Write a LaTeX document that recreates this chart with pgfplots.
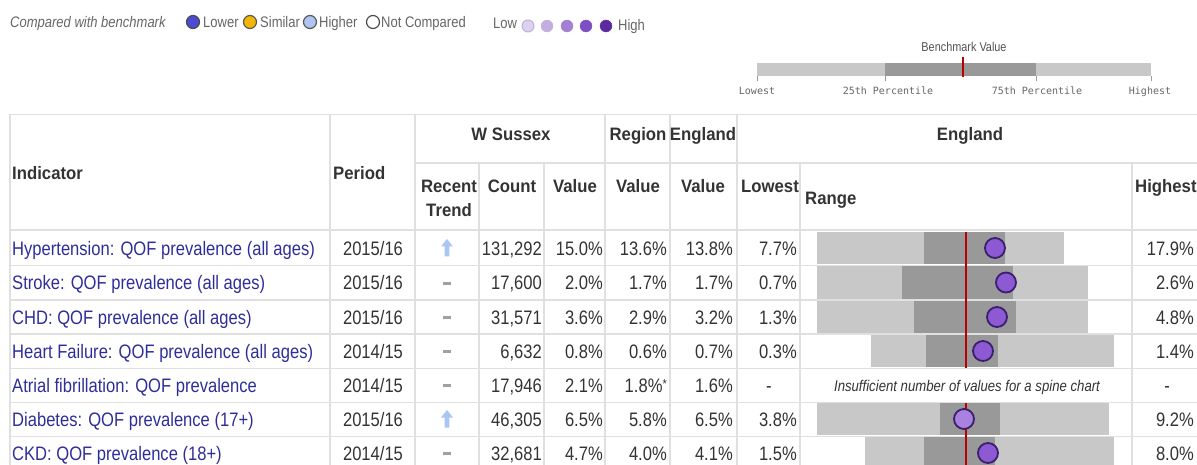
\documentclass[border=0pt]{standalone}
\usepackage{fontspec}
\setmainfont{Liberation Sans}[FakeStretch=0.85]
\newfontfamily\hdrfam{Liberation Sans}[FakeStretch=0.93]
\newfontfamily\monofam{DejaVu Sans Mono}
\usepackage{pgfplots}
\usepackage{pgfplotstable}
\pgfplotsset{compat=1.18}

\definecolor{txt}{HTML}{333333}
\definecolor{ind}{HTML}{2E2E99}
\definecolor{gridc}{HTML}{E0E0E0}
\definecolor{lightbar}{HTML}{C8C8C8}
\definecolor{darkbar}{HTML}{999999}
\definecolor{bench}{HTML}{B80000}
\definecolor{dot}{HTML}{8D5AD3}
\definecolor{dotlight}{HTML}{A982E0}
\definecolor{dotedge}{HTML}{3A1F6E}
\definecolor{legtxt}{HTML}{666666}
\definecolor{arrowblue}{HTML}{A9C6F5}
\definecolor{dashc}{HTML}{A0A0A0}
\definecolor{lowc}{HTML}{4B4BD4}
\definecolor{simc}{HTML}{F2B705}
\definecolor{highc}{HTML}{AFC6F2}
\definecolor{p1}{HTML}{DCD2EE}
\definecolor{p2}{HTML}{C3AEE2}
\definecolor{p3}{HTML}{A47FD4}
\definecolor{p4}{HTML}{7E4FC4}
\definecolor{p5}{HTML}{5B2A9E}

\pgfdeclareplotmark{uparr}{%
  \pgfpathmoveto{\pgfqpoint{0pt}{9pt}}%
  \pgfpathlineto{\pgfqpoint{6pt}{1.5pt}}%
  \pgfpathlineto{\pgfqpoint{2.4pt}{1.5pt}}%
  \pgfpathlineto{\pgfqpoint{2.4pt}{-8.5pt}}%
  \pgfpathlineto{\pgfqpoint{-2.4pt}{-8.5pt}}%
  \pgfpathlineto{\pgfqpoint{-2.4pt}{1.5pt}}%
  \pgfpathlineto{\pgfqpoint{-6pt}{1.5pt}}%
  \pgfpathclose
  \pgfusepathqfill}
\pgfdeclareplotmark{dash}{%
  \pgfpathrectangle{\pgfqpoint{-4pt}{-1.5pt}}{\pgfqpoint{8pt}{3pt}}%
  \pgfusepathqfill}

% spine chart (positions in the chart's pixel scale): row centre, lowest, 25th, 75th, highest
\pgfplotstableread{
y     lo   q1   q3   hi
248   817  924  1005 1064
282.5 817  902  1013 1088
317   817  914  1016 1088
351   871  926  998  1114
419   817  940  1000 1109
453   865  924  995  1114
}\spine

\newcommand\bodyfont{\fontsize{19.5}{22}\selectfont}
\newcommand\hfont{\hdrfam\bfseries\fontsize{18}{20}\selectfont}
\newcommand\CellR[3]{\node[anchor=base east,inner sep=0pt,text=txt,font=\bodyfont] at (axis cs:#2,#1) {#3};}
\newcommand\CellC[3]{\node[anchor=base,inner sep=0pt,text=txt,font=\bodyfont] at (axis cs:#2,#1) {#3};}
\newcommand\IndName[2]{\node[anchor=base west,inner sep=0pt,text=ind,font=\bodyfont] at (axis cs:12,#1) {#2};}
\newcommand\HeadC[3]{\node[anchor=base,inner sep=0pt,text=txt,font=\hfont] at (axis cs:#2,#1) {#3};}

\begin{document}
\begin{tikzpicture}
\begin{axis}[
  at={(0,0)}, anchor=south west,
  width=1197pt, height=465pt, scale only axis,
  xmin=0, xmax=1197, ymin=0, ymax=465, y dir=reverse,
  hide axis, clip=true,
]
% ---------- table grid ----------
\draw[gridc, line width=1.5pt] (axis cs:10,114.5) -- (axis cs:1197,114.5);
\draw[gridc, line width=1.5pt] (axis cs:10,114.5) -- (axis cs:10,470);
\draw[gridc, line width=1.5pt] (axis cs:415,163) -- (axis cs:1197,163);
\draw[gridc, line width=2pt] (axis cs:10,230) -- (axis cs:1197,230);
\foreach \yy in {265.5,300,334,368.5,402.5,436.5}{
  \edef\tmp{\noexpand\draw[gridc, line width=1.5pt] (axis cs:10,\yy) -- (axis cs:1197,\yy);}\tmp
}
\foreach \xx in {330,415,605,670,737}{
  \edef\tmp{\noexpand\draw[gridc, line width=1.5pt] (axis cs:\xx,114.5) -- (axis cs:\xx,470);}\tmp
}
\foreach \xx in {479,544,800,1132}{
  \edef\tmp{\noexpand\draw[gridc, line width=1.5pt] (axis cs:\xx,163) -- (axis cs:\xx,470);}\tmp
}

% ---------- spine chart ----------
\addplot[draw=none, mark=none, forget plot,
  error bars/.cd, x dir=both, x explicit, error mark=none,
  error bar style={line width=32pt, draw=lightbar}]
  table[x expr={(\thisrow{lo}+\thisrow{hi})/2}, y=y,
        x error expr={(\thisrow{hi}-\thisrow{lo})/2}] {\spine};
\addplot[draw=none, mark=none, forget plot,
  error bars/.cd, x dir=both, x explicit, error mark=none,
  error bar style={line width=32pt, draw=darkbar}]
  table[x expr={(\thisrow{q1}+\thisrow{q3})/2}, y=y,
        x error expr={(\thisrow{q3}-\thisrow{q1})/2}] {\spine};
\addplot[bench, line width=2.5pt, unbounded coords=jump, mark=none]
  coordinates {(966,232) (966,368) (966,nan) (966,403) (966,470)};
\addplot[only marks, mark=*, mark size=10pt,
  mark options={fill=dot, draw=dotedge, line width=1.8pt}]
  coordinates {(995,248) (1006,282.5) (997,317) (983,351) (988,453)};
\addplot[only marks, mark=*, mark size=10pt,
  mark options={fill=dotlight, draw=dotedge, line width=1.8pt}]
  coordinates {(964,419)};

% ---------- recent trend ----------
\addplot[only marks, mark=uparr, color=arrowblue] coordinates {(447,248) (447,419)};
\addplot[only marks, mark=dash, color=dashc] coordinates {(447,283) (447,317) (447,351) (447,385) (447,453)};

% ---------- benchmark key ----------
\addplot[lightbar, line width=13pt, mark=none] coordinates {(757,69.5) (1151,69.5)};
\addplot[darkbar, line width=13pt, mark=none] coordinates {(885,69.5) (1036,69.5)};
\addplot[bench, line width=2.2pt, mark=none] coordinates {(963,57) (963,77)};
\addplot[darkbar, line width=1pt, mark=none, unbounded coords=jump] coordinates {
  (757,76) (757,81) (757,nan) (885,76) (885,81) (885,nan) (1036,76) (1036,81) (1036,nan) (1151,76) (1151,81)};
\node[anchor=base, inner sep=0pt, text=txt!85, font=\fontsize{12.8}{14}\selectfont] at (axis cs:964,52) {Benchmark Value};
\node[anchor=base, inner sep=0pt, text=legtxt, font=\monofam\fontsize{10}{12}\selectfont] at (axis cs:757,95) {Lowest};
\node[anchor=base, inner sep=0pt, text=legtxt, font=\monofam\fontsize{10}{12}\selectfont] at (axis cs:888,95) {25th Percentile};
\node[anchor=base, inner sep=0pt, text=legtxt, font=\monofam\fontsize{10}{12}\selectfont] at (axis cs:1037,95) {75th Percentile};
\node[anchor=base, inner sep=0pt, text=legtxt, font=\monofam\fontsize{10}{12}\selectfont] at (axis cs:1150,95) {Highest};

% ---------- top legend ----------
\node[anchor=base west, inner sep=0pt, text=legtxt, font=\itshape\fontsize{15.3}{17}\selectfont] at (axis cs:10,27.5) {Compared with benchmark};
\addplot[only marks, mark=*, mark size=6.5pt, mark options={fill=lowc, draw=black!70, line width=1.2pt}] coordinates {(193,22)};
\addplot[only marks, mark=*, mark size=6.5pt, mark options={fill=simc, draw=black!65, line width=1.2pt}] coordinates {(250,22)};
\addplot[only marks, mark=*, mark size=6.5pt, mark options={fill=highc, draw=black!65, line width=1.2pt}] coordinates {(310,22)};
\addplot[only marks, mark=*, mark size=6.5pt, mark options={fill=white, draw=black!70, line width=1.2pt}] coordinates {(373,22)};
\node[anchor=base west, inner sep=0pt, text=legtxt, font=\fontsize{15.3}{17}\selectfont] at (axis cs:203,27.5) {Lower};
\node[anchor=base west, inner sep=0pt, text=legtxt, font=\fontsize{15.3}{17}\selectfont] at (axis cs:260,27.5) {Similar};
\node[anchor=base west, inner sep=0pt, text=legtxt, font=\fontsize{15.3}{17}\selectfont] at (axis cs:319,27.5) {Higher};
\node[anchor=base west, inner sep=0pt, text=legtxt, font=\fontsize{15.3}{17}\selectfont] at (axis cs:381,27.5) {Not Compared};
\node[anchor=base west, inner sep=0pt, text=legtxt, font=\fontsize{15.3}{17}\selectfont] at (axis cs:493,29) {Low};
\addplot[only marks, mark=*, mark size=6pt, mark options={fill=p1, draw=p2, line width=1pt}] coordinates {(528,26)};
\addplot[only marks, mark=*, mark size=6pt, mark options={fill=p2, draw=p2}] coordinates {(547,26)};
\addplot[only marks, mark=*, mark size=6pt, mark options={fill=p3, draw=p3}] coordinates {(567,26)};
\addplot[only marks, mark=*, mark size=6pt, mark options={fill=p4, draw=p4}] coordinates {(586,26)};
\addplot[only marks, mark=*, mark size=6pt, mark options={fill=p5, draw=p5}] coordinates {(606,26)};
\node[anchor=base west, inner sep=0pt, text=legtxt, font=\fontsize{15.3}{17}\selectfont] at (axis cs:618,31) {High};

% ---------- headers ----------
\node[anchor=base west, inner sep=0pt, text=txt, font=\hfont] at (axis cs:12,180) {Indicator};
\node[anchor=base west, inner sep=0pt, text=txt, font=\hfont] at (axis cs:333,180) {Period};
\HeadC{141}{511}{W Sussex}
\HeadC{141}{638}{Region}
\HeadC{141}{703}{England}
\HeadC{141}{970}{England}
\HeadC{193}{449}{Recent}
\HeadC{217}{449}{Trend}
\HeadC{193}{512}{Count}
\HeadC{193}{575}{Value}
\HeadC{193}{638}{Value}
\HeadC{193}{703}{Value}
\HeadC{193}{770}{Lowest}
\node[anchor=base west, inner sep=0pt, text=txt, font=\hfont] at (axis cs:805,205) {Range};
\node[anchor=base west, inner sep=0pt, text=txt, font=\hfont] at (axis cs:1135,193) {Highest};

% ---------- rows ----------
\IndName{255}{Hypertension: QOF prevalence (all ages)}
\IndName{289.5}{Stroke: QOF prevalence (all ages)}
\IndName{324}{CHD: QOF prevalence (all ages)}
\IndName{358}{Heart Failure: QOF prevalence (all ages)}
\IndName{392}{Atrial fibrillation: QOF prevalence}
\IndName{426}{Diabetes: QOF prevalence (17+)}
\IndName{460}{CKD: QOF prevalence (18+)}

\CellC{255}{373}{2015/16}
\CellC{289.5}{373}{2015/16}
\CellC{324}{373}{2015/16}
\CellC{358}{373}{2014/15}
\CellC{392}{373}{2014/15}
\CellC{426}{373}{2015/16}
\CellC{460}{373}{2014/15}

\CellR{255}{542}{131,292} \CellR{255}{603}{15.0\%} \CellR{255}{667}{13.6\%} \CellR{255}{733}{13.8\%} \CellR{255}{797}{7.7\%} \CellR{255}{1194}{17.9\%}
\CellR{289.5}{542}{17,600} \CellR{289.5}{603}{2.0\%} \CellR{289.5}{667}{1.7\%} \CellR{289.5}{733}{1.7\%} \CellR{289.5}{797}{0.7\%} \CellR{289.5}{1194}{2.6\%}
\CellR{324}{542}{31,571} \CellR{324}{603}{3.6\%} \CellR{324}{667}{2.9\%} \CellR{324}{733}{3.2\%} \CellR{324}{797}{1.3\%} \CellR{324}{1194}{4.8\%}
\CellR{358}{542}{6,632} \CellR{358}{603}{0.8\%} \CellR{358}{667}{0.6\%} \CellR{358}{733}{0.7\%} \CellR{358}{797}{0.3\%} \CellR{358}{1194}{1.4\%}
\CellR{392}{542}{17,946} \CellR{392}{603}{2.1\%} \CellR{392}{667}{1.8\%\raisebox{4pt}{\fontsize{13}{13}\selectfont*}} \CellR{392}{733}{1.6\%}
\CellC{392}{769}{-} \CellC{392}{1167}{-}
\CellR{426}{542}{46,305} \CellR{426}{603}{6.5\%} \CellR{426}{667}{5.8\%} \CellR{426}{733}{6.5\%} \CellR{426}{797}{3.8\%} \CellR{426}{1194}{9.2\%}
\CellR{460}{542}{32,681} \CellR{460}{603}{4.7\%} \CellR{460}{667}{4.0\%} \CellR{460}{733}{4.1\%} \CellR{460}{797}{1.5\%} \CellR{460}{1194}{8.0\%}

\node[anchor=base, inner sep=0pt, text=txt, font=\itshape\fontsize{15.5}{17}\selectfont] at (axis cs:967,391) {Insufficient number of values for a spine chart};
\end{axis}
\pgfresetboundingbox
\path (0,0) rectangle (1197pt,465pt);
\end{tikzpicture}
\end{document}
